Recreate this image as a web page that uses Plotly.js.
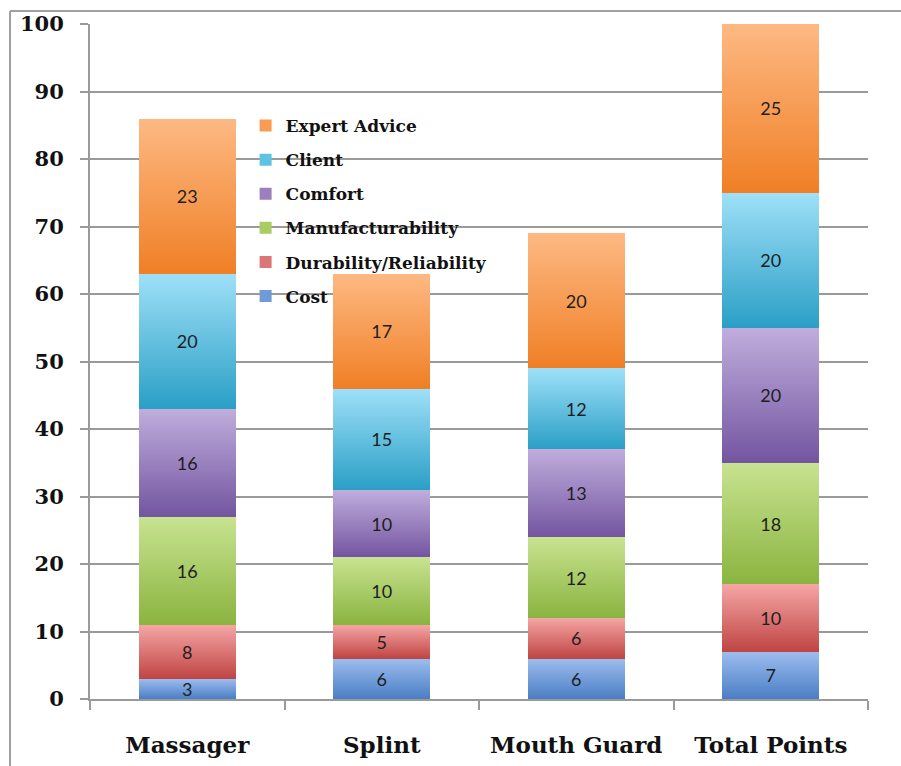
<!DOCTYPE html>
<html>
<head>
<meta charset="utf-8">
<script src="https://cdn.plot.ly/plotly-3.0.1.min.js"></script>
<style>html,body{margin:0;padding:0;background:#fff;}#chart{width:901px;height:766px;}</style>
</head>
<body>
<div id="chart"></div>
<script>
const categories = ['Massager', 'Splint', 'Mouth Guard', 'Total Points'];
const cost = [3, 6, 6, 7];
const durability = [8, 5, 6, 10];
const manufacturability = [16, 10, 12, 18];
const comfort = [16, 10, 13, 20];
const client = [20, 15, 12, 20];
const expertAdvice = [23, 17, 20, 25];
const seriesNames = ['Cost', 'Durability/Reliability', 'Manufacturability', 'Comfort', 'Client', 'Expert Advice'];
const yTicks = [0, 10, 20, 30, 40, 50, 60, 70, 80, 90, 100];

const seriesValues = [cost, durability, manufacturability, comfort, client, expertAdvice];
const midColors = ['#6f9bd8', '#dc7674', '#a9cc63', '#9b80bd', '#5ec2e2', '#f89c52'];
const topColors = ['#9dbdef', '#f5a6a5', '#c8e391', '#c0aedd', '#9fe0f8', '#fdb983'];
const botColors = ['#4a7ec4', '#bf4543', '#8ab43f', '#7355a0', '#2a9fc6', '#f07f26'];

const traces = seriesValues.map((vals, i) => ({
  type: 'bar',
  name: seriesNames[i],
  x: categories,
  y: vals,
  text: vals.map(String),
  textposition: 'inside',
  insidetextanchor: 'middle',
  textangle: 0,
  constraintext: 'none',
  textfont: {family: 'Lato, "Open Sans", sans-serif', size: 18, color: '#1e1e1e'},
  marker: {color: midColors[i], line: {width: 0}},
  width: 0.5,
  legendgroup: 'g' + i,
  legendrank: 1000 + (seriesValues.length - i),
  hoverinfo: 'none'
}));

const X = px => (px - 90) / 778;
const Y = py => (699 - py) / 675;

const layout = {
  width: 901, height: 766,
  margin: {l: 90, r: 33, t: 24, b: 67},
  paper_bgcolor: '#ffffff', plot_bgcolor: '#ffffff',
  barmode: 'stack',
  bargap: 0.5,
  showlegend: true,
  legend: {
    x: 0.2, y: Y(108), xanchor: 'left', yanchor: 'top',
    traceorder: 'grouped',
    tracegroupgap: 9,
    bgcolor: 'rgba(0,0,0,0)',
    font: {family: '"DejaVu Serif", serif', size: 17, color: '#111', weight: 'bold'}
  },
  xaxis: {
    type: 'category',
    showgrid: false,
    showline: true, linecolor: '#9a9a9a', linewidth: 2,
    ticks: 'outside', tickson: 'boundaries', ticklen: 9, tickcolor: '#9a9a9a', tickwidth: 2,
    ticklabelstandoff: 24,
    tickfont: {family: '"DejaVu Serif", serif', size: 23, color: '#111', weight: 'bold'},
    fixedrange: true
  },
  yaxis: {
    range: [0, 100],
    tickvals: yTicks,
    ticktext: yTicks.map(String),
    showgrid: true, gridcolor: '#9a9a9a', gridwidth: 2,
    showline: true, linecolor: '#9a9a9a', linewidth: 2,
    zeroline: false,
    ticks: 'outside', ticklen: 8, tickcolor: '#9a9a9a', tickwidth: 2,
    ticklabelstandoff: 12,
    tickfont: {family: '"DejaVu Serif", serif', size: 21, color: '#111', weight: 'bold'},
    fixedrange: true
  },
  shapes: [
    {type: 'line', xref: 'paper', yref: 'paper', x0: X(10), x1: X(10), y0: Y(770), y1: Y(11), line: {color: '#a0a0a0', width: 2}},
    {type: 'line', xref: 'paper', yref: 'paper', x0: X(10), x1: X(905), y0: Y(11), y1: Y(11), line: {color: '#a0a0a0', width: 2}}
  ]
};

Plotly.newPlot('chart', traces, layout, {displayModeBar: false, staticPlot: true}).then(gd => {
  const svg = gd.querySelector('.main-svg');
  const ns = 'http://www.w3.org/2000/svg';
  let defs = svg.querySelector('defs');
  if (!defs) { defs = document.createElementNS(ns, 'defs'); svg.insertBefore(defs, svg.firstChild); }
  seriesValues.forEach((_, i) => {
    const lg = document.createElementNS(ns, 'linearGradient');
    lg.setAttribute('id', 'barGrad' + i);
    lg.setAttribute('x1', '0'); lg.setAttribute('y1', '0');
    lg.setAttribute('x2', '0'); lg.setAttribute('y2', '1');
    [[0, topColors[i]], [1, botColors[i]]].forEach(([o, c]) => {
      const st = document.createElementNS(ns, 'stop');
      st.setAttribute('offset', o);
      st.setAttribute('stop-color', c);
      lg.appendChild(st);
    });
    defs.appendChild(lg);
  });
  const barTraces = gd.querySelectorAll('.barlayer .trace.bars');
  barTraces.forEach((t, i) => {
    t.querySelectorAll('.point path').forEach(p => {
      p.style.fill = 'url(#barGrad' + i + ')';
    });
  });
});
</script>
</body>
</html>
